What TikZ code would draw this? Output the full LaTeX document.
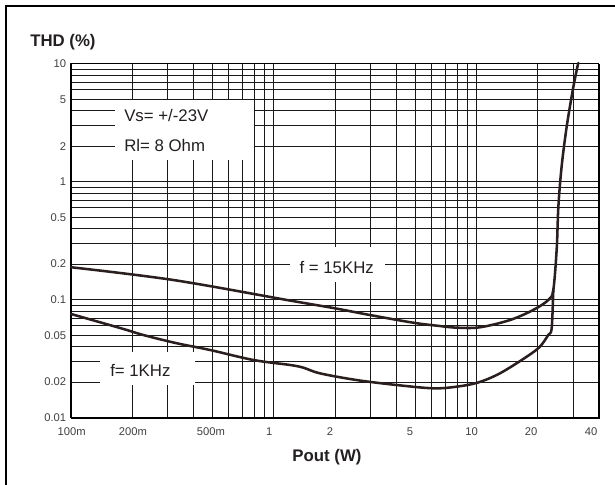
\documentclass[tikz,border=0pt]{standalone}
\usepackage{fontspec}
\setmainfont{Liberation Sans}
\definecolor{curvecol}{RGB}{42,30,30}
\definecolor{textcol}{RGB}{35,31,32}
\tikzset{
    grid line/.style = {line width = 0.7pt, draw = black!90},
    thd curve/.style = {line width = 1.9pt, draw = curvecol, line join = round, line cap = round},
    big label/.style = {inner sep = 0pt, text = textcol, font = \fontsize{12.6}{15}\selectfont},
    axis title/.style = {inner sep = 0pt, text = textcol, font = \bfseries\fontsize{12.6}{15}\selectfont},
    tick label/.style = {inner sep = 0pt, text = black!75, font = \fontsize{8.4}{10}\selectfont}
}
\begin{document}
\begin{tikzpicture}[x = 0.75pt, y = -0.75pt]
            \useasboundingbox (0,0) rectangle (615,485);

            % Frame round the page
            \draw [line width = 1.3pt] (6,485) -- (6,6) -- (615,6);

            % Log grid: 100m .. 40 W, 0.01 .. 10 %
            \begin{scope}[shift = {(71,417.7)}, x = 152.175pt, y = 88.5pt]
                \foreach \e in {0,1,2} {
                    \foreach \m in {1,...,9} {
                        \draw [grid line] (0, {\e + log10(\m)}) -- (2.602, {\e + log10(\m)});
                    }
                }
                \foreach \e in {0,1} {
                    \foreach \m in {1,...,9} {
                        \draw [grid line] ({\e + log10(\m)}, 0) -- ({\e + log10(\m)}, 3);
                    }
                }
                \foreach \m in {1,2,3} {
                    \draw [grid line] ({2 + log10(\m)}, 0) -- ({2 + log10(\m)}, 3);
                }
            \end{scope}

            % Blank areas behind the texts
            \fill [white] (115,100.4) rectangle (254,160);
            \fill [white] (290,247) rectangle (385,282);
            \fill [white] (100,352) rectangle (195,385);

            \begin{scope}[shift = {(71,417.7)}, x = 152.175pt, y = 88.5pt]
                % Plot border
                \draw [line width = 0.8pt] (2.602,3) -- (0,3) -- (0,0);
                \draw [line width = 1.5pt] (0,0) -- (2.602,0) -- (2.602,3);

                % f = 15KHz
                \draw [thd curve] plot [smooth, tension = 0.55] coordinates {(0,1.275) (0.504,1.167) (1.079,0.993) (1.301,0.927) (1.474,0.870) (1.687,0.805) (1.818,0.777) (1.901,0.763) (2.015,0.766) (2.164,0.828) (2.278,0.913) (2.352,0.997) (2.377,1.082) (2.394,1.436) (2.402,1.788) (2.418,2.127) (2.443,2.466) (2.476,2.805) (2.500,3.006)};
                % f = 1KHz
                \draw [thd curve] plot [smooth, tension = 0.55] coordinates {(0,0.879) (0.258,0.752) (0.356,0.701) (0.521,0.631) (0.685,0.574) (0.899,0.489) (1.079,0.447) (1.145,0.424) (1.227,0.376) (1.408,0.319) (1.605,0.277) (1.786,0.249) (1.901,0.263) (2.006,0.298) (2.114,0.376) (2.246,0.517) (2.311,0.602) (2.352,0.701) (2.369,0.758) (2.377,1.082)};

                % Y tick labels
                \foreach \v [count = \i] in {10,5,2,1,0.5,0.2,0.1,0.05,0.02,0.01} {
                    \node [tick label, anchor = east] (ylab\i) at ([xshift = -3.4pt] 0, {log10(\v) + 2}) {\v};
                }
            \end{scope}

            % X tick labels
            \foreach \t/\xpos [count = \i] in {100m/71.7, 200m/133, 500m/211, 1/269.3, 2/330, 5/410, 10/471.7, 20/531, 40/591} {
                \node [tick label] (xlab\i) at (\xpos,431.7) {\t};
            }

            % Titles and texts
            \node [axis title, anchor = west] (thd) at (30,42.5) {THD (\%)};
            \node [axis title] (pout) at (327,457.5) {Pout (W)};
            \node [big label, anchor = west] (vs) at (124,115) {Vs= +/-23V};
            \node [big label, anchor = west] (rl) at (124,145) {Rl= 8 Ohm};
            \node [big label, anchor = west] (f15) at (299.3,267.5) {f = 15KHz};
            \node [big label, anchor = west] (f1) at (110,370) {f= 1KHz};

\end{tikzpicture}
\end{document}
